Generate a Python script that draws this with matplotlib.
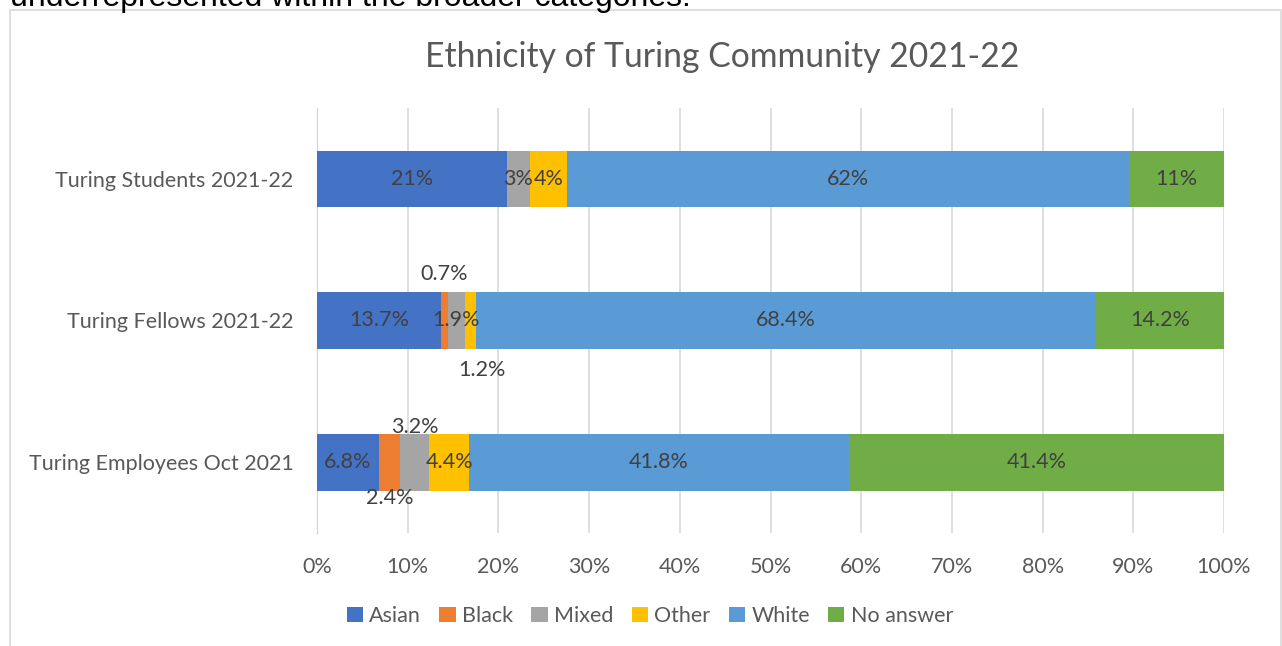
import matplotlib
matplotlib.use("Agg")
import matplotlib.pyplot as plt
from matplotlib.patches import Rectangle, Patch

plt.rcParams['font.family'] = ['Lato', 'DejaVu Sans']

categories = ["Turing Students 2021-22", "Turing Fellows 2021-22", "Turing Employees Oct 2021"]
groups = ["Asian", "Black", "Mixed", "Other", "White", "No answer"]
colors = ["#4472C4", "#ED7D31", "#A5A5A5", "#FFC000", "#5B9BD5", "#70AD47"]

asian = [20.9, 13.7, 6.8]
black = [0.0, 0.7, 2.4]
mixed = [2.6, 1.9, 3.2]
other = [4.1, 1.2, 4.4]
white = [61.9, 68.4, 41.8]
no_answer = [10.5, 14.2, 41.4]

labels = [
    ["21%", "", "3%", "4%", "62%", "11%"],
    ["13.7%", "0.7%", "1.9%", "1.2%", "68.4%", "14.2%"],
    ["6.8%", "2.4%", "3.2%", "4.4%", "41.8%", "41.4%"],
]
xticks = [0, 10, 20, 30, 40, 50, 60, 70, 80, 90, 100]
title = "Ethnicity of Turing Community 2021-22"
caption = "underrepresented within the broader categories."

series = [asian, black, mixed, other, white, no_answer]

fig = plt.figure(figsize=(12.82, 6.46), dpi=100)
# chart frame
fig.patches.append(Rectangle((10/1282, -0.01), 1271/1282, 1 - 10/646 + 0.01,
                             transform=fig.transFigure, fill=False,
                             edgecolor="#D9D9D9", linewidth=1.2))
fig.text(10/1282, 1 - 6/646, caption, fontsize=23, family=['Liberation Sans'],
         color="black", va="baseline", ha="left")

ax = fig.add_axes([317/1282, 1 - 533/646, (1224-317)/1282, (533-108)/646])
ypos = list(range(len(categories)))
left = [0.0] * len(categories)
for s, name, col in zip(series, groups, colors):
    ax.barh(ypos, s, left=left, height=0.4, color=col, label=name, zorder=2)
    left = [l + v for l, v in zip(left, s)]

# data labels
placement = {(1, 1): ("above", 0, 0.33), (1, 3): ("below", 12, 0.35),
             (2, 2): ("above", 0, 0.25), (2, 1): ("below", 0, 0.25)}
for i in range(len(categories)):
    start = 0.0
    for j, s in enumerate(series):
        v = s[i]
        txt = labels[i][j]
        if txt:
            cx = start + v / 2
            cy = i
            if (i, j) in placement:
                where, dx_px, dy = placement[(i, j)]
                cx += dx_px / 9.07
                cy = i - dy if where == "above" else i + dy
            ax.text(cx, cy, txt, ha="center", va="center", fontsize=15.5,
                    color="#404040", zorder=3)
        start += v

ax.set_xlim(0, 100)
ax.set_ylim(len(categories) - 0.5, -0.5)
ax.set_xticks(xticks)
ax.set_xticklabels([f"{t}%" for t in xticks])
ax.set_yticks(ypos)
ax.set_yticklabels(categories)
ax.tick_params(axis='both', length=0, labelsize=15.5, labelcolor="#595959")
ax.tick_params(axis='x', pad=17)
ax.tick_params(axis='y', pad=17)
ax.grid(axis='x', color="#D9D9D9", linewidth=1.2, zorder=0)
for sp in ["top", "right", "bottom"]:
    ax.spines[sp].set_visible(False)
ax.spines["left"].set_color("#BFBFBF")
ax.spines["left"].set_zorder(1)

fig.text(722/1282, 1 - 57/646, title, ha="center", va="center",
         fontsize=24.3, color="#595959")

handles = [Patch(facecolor=c, label=g) for g, c in zip(groups, colors)]
fig.legend(handles=handles, loc="center", bbox_to_anchor=(650/1282, 1 - 616/646),
           ncol=6, frameon=False, fontsize=15.5, handlelength=0.75,
           handleheight=0.75, handletextpad=0.3, columnspacing=0.85,
           labelcolor="#595959")

fig.savefig("out.png", dpi=100)
